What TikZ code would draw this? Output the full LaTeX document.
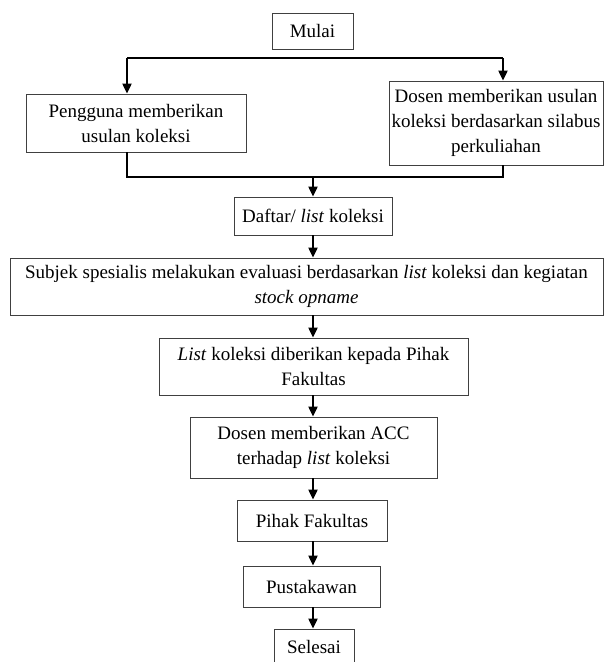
\documentclass[tikz,border=0pt]{standalone}
\usepackage{fontspec}
\setmainfont{Liberation Serif}
\usetikzlibrary{arrows.meta}

\begin{document}
\begin{tikzpicture}[x=1pt, y=-1pt,
  box/.style={draw=black!75, line width=0.8pt, inner sep=0pt, align=center,
    font=\fontsize{19}{25}\selectfont},
  link/.style={line width=2pt},
  arr/.style={line width=2pt, -{Triangle[width=9pt,length=10pt]}}]
  \useasboundingbox (0,0) rectangle (604,662);

  \node[box, minimum width=81, minimum height=36] (MU) at (312.5,31) {Mulai};
  \node[box, minimum width=220, minimum height=58] (PE) at (136,123) {Pengguna memberikan\\usulan koleksi};
  \node[box, minimum width=214, minimum height=84] (DU) at (496,123) {Dosen memberikan usulan\\koleksi berdasarkan silabus\\perkuliahan};
  \node[box, minimum width=158, minimum height=38] (DA) at (313,216) {Daftar/ \textit{list} koleksi};
  \node[box, minimum width=593, minimum height=57] (SU) at (306.5,286.5) {Subjek spesialis melakukan evaluasi berdasarkan \textit{list} koleksi dan kegiatan\\\textit{stock opname}};
  \node[box, minimum width=309, minimum height=57] (LI) at (313.5,366.5) {\textit{List} koleksi diberikan kepada Pihak\\Fakultas};
  \node[box, minimum width=247, minimum height=61] (AC) at (313.5,447.5) {Dosen memberikan ACC\\terhadap \textit{list} koleksi};
  \node[box, minimum width=150, minimum height=41] (PF) at (312,520.5) {Pihak Fakultas};
  \node[box, minimum width=137, minimum height=41] (PU) at (311.5,586.5) {Pustakawan};
  \node[box, minimum width=80, minimum height=36] (SE) at (314,647) {Selesai};

  % split and merge lines
  \coordinate (SL) at (127,58);
  \coordinate (SR) at (503,58);
  \coordinate (ML) at (127,177);
  \coordinate (MR) at (503,177);
  \coordinate (MC) at (313,177);

  \draw[link] (SL) -- (SR);
  \draw[arr] (SL) -- (SL |- PE.north);
  \draw[arr] (SR) -- (SR |- DU.north);
  \draw[link] (ML |- PE.south) -- (ML) -- (MR) -- (MR |- DU.south);
  \draw[arr] (MC) -- (MC |- DA.north);

  % main column
  \draw[arr] (MC |- DA.south) -- (MC |- SU.north);
  \draw[arr] (MC |- SU.south) -- (MC |- LI.north);
  \draw[arr] (MC |- LI.south) -- (MC |- AC.north);
  \draw[arr] (MC |- AC.south) -- (MC |- PF.north);
  \draw[arr] (MC |- PF.south) -- (MC |- PU.north);
  \draw[arr] (MC |- PU.south) -- (MC |- SE.north);
\end{tikzpicture}
\end{document}
